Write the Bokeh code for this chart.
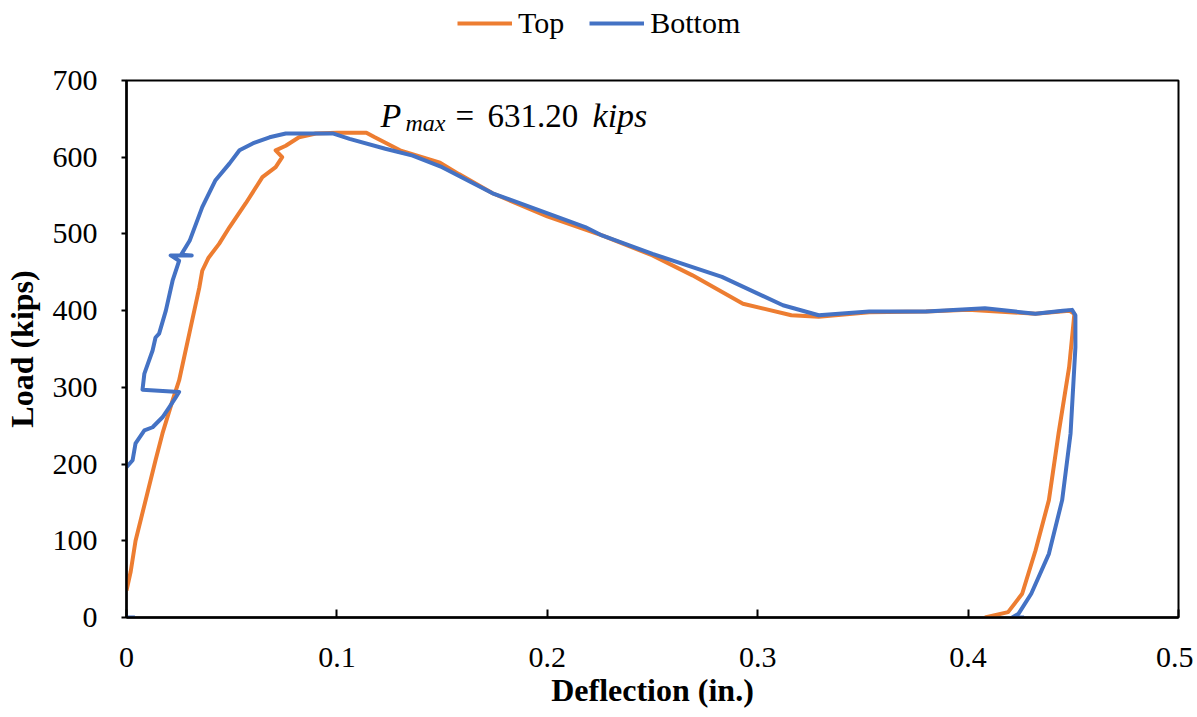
import math
from bokeh.plotting import figure
from bokeh.layouts import column
from bokeh.models import Legend, LegendItem, Label, FixedTicker, NumeralTickFormatter, Range1d
from bokeh.embed import file_html
from bokeh.resources import INLINE

# ---- data ----
top_x = [0.000, 0.002, 0.0043, 0.009, 0.0138, 0.0171, 0.0219, 0.025, 0.030, 0.0346, 0.036,
         0.039, 0.044, 0.049, 0.0567, 0.0646, 0.0709, 0.074, 0.0709, 0.0757, 0.082, 0.090,
         0.100, 0.114, 0.118, 0.130, 0.149, 0.158, 0.174, 0.200, 0.226, 0.250, 0.269, 0.293,
         0.316, 0.329, 0.353, 0.380, 0.400, 0.432, 0.448, 0.4505, 0.4502, 0.448, 0.443, 0.4384,
         0.432, 0.4257, 0.419, 0.408]
top_y = [35, 60, 100, 152, 205, 240, 283, 309, 372, 430, 452,
         469, 487, 509, 540, 574, 587, 600, 609, 615, 626, 631,
         632, 632, 626, 609, 593, 578, 553, 523, 498, 472, 446, 409,
         394, 392, 398, 399, 401, 396, 400, 396, 387, 326, 240, 153,
         87, 31, 7, 0]

bottom_x = [0.000, 0.004, math.nan,
            0.000, 0.0029, 0.0043, 0.0085, 0.0124, 0.0171, 0.0203, 0.0234, 0.025, 0.0076,
            0.0085, 0.0124, 0.0138, 0.0155, 0.0187, 0.0219, 0.025, 0.021, 0.031, 0.026,
            0.030, 0.036, 0.0423, 0.049, 0.0537, 0.060, 0.068, 0.0757, 0.0836, 0.098,
            0.106, 0.123, 0.136, 0.150, 0.174, 0.218, 0.226, 0.250, 0.283, 0.312, 0.329,
            0.353, 0.380, 0.408, 0.432, 0.445, 0.4494, 0.451, 0.451, 0.4487, 0.4447,
            0.4384, 0.430, 0.424, 0.421, 0.4266]
bottom_y = [0, 0, math.nan,
            196, 205, 227, 244, 248, 261, 274, 287, 294, 297,
            318, 348, 365, 370, 400, 439, 465, 472, 472, 473,
            491, 535, 570, 592, 609, 618, 626, 631, 631, 631,
            624, 611, 602, 587, 553, 509, 498, 474, 444, 407, 394,
            399, 399, 403, 396, 400, 401, 394, 352, 240, 153,
            83, 31, 5, 0, 0]

series_names = ["Top", "Bottom"]
series_colors = ["#ED7D31", "#4472C4"]

x_ticks = [0, 0.1, 0.2, 0.3, 0.4, 0.5]
y_ticks = [0, 100, 200, 300, 400, 500, 600, 700]

FONT = "'Liberation Serif', 'Times New Roman', 'DejaVu Serif', serif"
TOTAL_W = 1191
LW = 4

# ---- main chart ----
p = figure(frame_width=1052, frame_height=537,
           x_range=Range1d(0, 0.5), y_range=Range1d(0, 700),
           output_backend="svg", toolbar_location=None,
           min_border_left=124, min_border_top=20, min_border_right=15, min_border_bottom=90)

r_top = p.line(top_x, top_y, line_color=series_colors[0], line_width=LW, line_join="round")
r_bot = p.line(bottom_x, bottom_y, line_color=series_colors[1], line_width=LW, line_join="round")

p.xgrid.visible = False
p.ygrid.visible = False
p.outline_line_color = "black"
p.outline_line_width = 2
p.outline_line_alpha = 1.0
p.background_fill_color = "white"
p.border_fill_color = "white"

xa = p.xaxis[0]
xa.ticker = FixedTicker(ticks=x_ticks)
xa.formatter = NumeralTickFormatter(format="0.[0]")
xa.axis_label = "Deflection (in.)"
xa.major_tick_in = 8
xa.major_tick_out = 0
xa.major_label_standoff = 30
xa.axis_label_standoff = 2

ya = p.yaxis[0]
ya.ticker = FixedTicker(ticks=y_ticks)
ya.axis_label = "Load (kips)"
ya.major_tick_in = 0
ya.major_tick_out = 5
ya.major_label_standoff = 24
ya.axis_label_standoff = 10

for ax in (xa, ya):
    ax.minor_tick_line_color = None
    ax.axis_line_color = "black"
    ax.axis_line_width = 2.5
    ax.major_tick_line_color = "black"
    ax.major_tick_line_width = 2
    ax.major_label_text_font = FONT
    ax.major_label_text_font_size = "30px"
    ax.major_label_text_color = "black"
    ax.axis_label_text_font = FONT
    ax.axis_label_text_font_size = "32px"
    ax.axis_label_text_font_style = "bold"
    ax.axis_label_text_color = "black"

# P_max annotation
p.add_layout(Label(x=0.1207, y=654, text="P", text_font=FONT, text_font_style="italic",
                   text_font_size="34px", text_color="black", text_baseline="alphabetic"))
p.add_layout(Label(x=0.1326, y=645, text="max", text_font=FONT, text_font_style="italic",
                   text_font_size="24px", text_color="black", text_baseline="alphabetic"))
p.add_layout(Label(x=0.1564, y=654, text="=", text_font=FONT,
                   text_font_size="33px", text_color="black", text_baseline="alphabetic"))
p.add_layout(Label(x=0.1716, y=654, text="631.20", text_font=FONT,
                   text_font_size="33px", text_color="black", text_baseline="alphabetic"))
p.add_layout(Label(x=0.2215, y=654, text="kips", text_font=FONT, text_font_style="italic",
                   text_font_size="34px", text_color="black", text_baseline="alphabetic"))

# ---- legend strip above the chart (frame aligned with the chart's frame) ----
lf = figure(width=TOTAL_W, height=60, x_range=Range1d(0, 0.5), y_range=Range1d(800, 900),
            output_backend="svg", toolbar_location=None,
            x_axis_type=None, y_axis_type=None,
            min_border_left=124, min_border_right=15, min_border_top=0, min_border_bottom=0)
lf.outline_line_color = None
lf.xgrid.visible = False
lf.ygrid.visible = False
lf.background_fill_color = "white"
lf.border_fill_color = "white"

# same series, drawn outside this strip's visible range: only their legend swatches show
items = []
for name, col, xs, ys in zip(series_names, series_colors, [top_x, bottom_x], [top_y, bottom_y]):
    r = lf.line(xs, ys, line_color=col, line_width=LW)
    items.append(LegendItem(label=name, renderers=[r]))

legend = Legend(items=items, orientation="horizontal", location=(326, 15),
                border_line_alpha=0, background_fill_alpha=0,
                label_text_font=FONT, label_text_font_size="30px", label_text_color="black",
                glyph_width=55, label_standoff=6, spacing=25, padding=5, margin=0)
lf.add_layout(legend)

page = column(lf, p, spacing=0)

open("out.html", "w").write(file_html(page, INLINE))
